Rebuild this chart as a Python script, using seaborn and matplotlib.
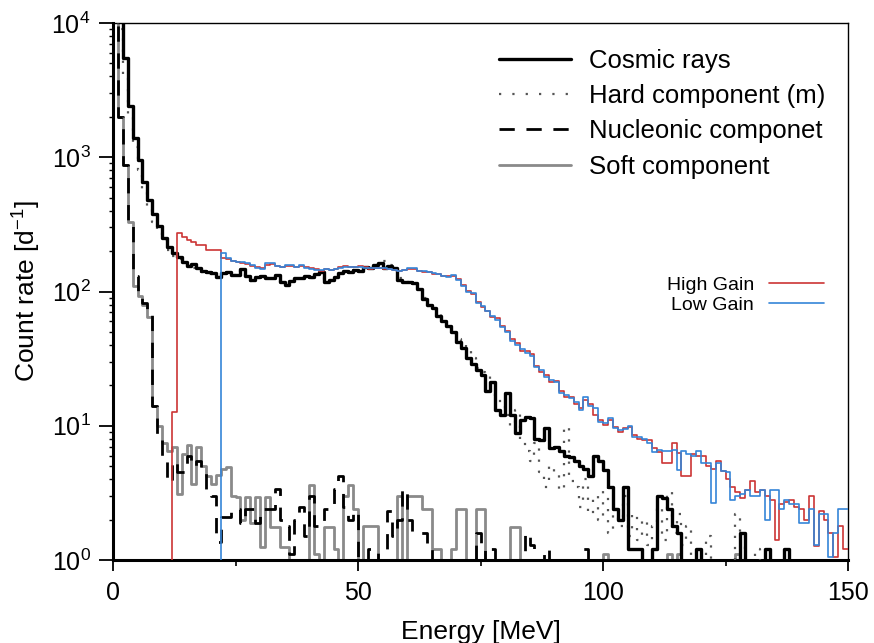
import numpy as np
import matplotlib
matplotlib.use("Agg")
import matplotlib.pyplot as plt
import seaborn as sns
from matplotlib.lines import Line2D
from matplotlib.ticker import LogLocator, MultipleLocator, NullFormatter

# counts per 1 MeV bin, bin i covers [i, i+1) MeV; 0 = empty bin
cosmic = [30000, 12000, 5500, 2400, 1400, 950, 650, 480, 380, 310,
          250, 215, 192, 180, 165, 155, 160, 150, 142, 140,
          138, 128, 138, 140, 132, 133, 148, 130, 122, 128,
          130, 127, 125, 132, 118, 112, 120, 126, 126, 130,
          128, 135, 140, 118, 122, 128, 138, 141, 140, 145,
          142, 152, 150, 158, 162, 150, 155, 150, 122, 118,
          118, 115, 105, 88, 80, 75, 66, 60, 55, 50,
          42, 38, 32, 29, 26, 24, 18, 21, 13, 12,
          17.5, 12, 8.8, 11, 11.7, 11.5, 8, 7.8, 9.6, 6.8,
          7, 6.5, 6, 5.9, 5.5, 5, 4.8, 4.2, 6, 5.5,
          4.7, 3.5, 2.4, 2.0, 3.5, 1.2, 1.2, 1.2, 0, 0,
          1.2, 3, 2.9, 2.4, 1.8, 1.6, 0, 0, 0, 1.2,
          0, 0, 0, 0, 0, 0, 0, 0, 1.6, 0,
          0, 0, 0, 1.2, 0, 0, 0, 1.2, 0, 0,
          0, 0, 0, 0, 0, 0, 0, 0, 0, 0]

hard = [20000, 9000, 4200, 2000, 1200, 800, 560, 420, 330, 280,
        240, 205, 185, 175, 160, 150, 150, 145, 140, 135,
        134, 128, 135, 138, 132, 130, 145, 128, 120, 126,
        128, 125, 124, 130, 117, 112, 118, 125, 125, 128,
        127, 134, 138, 117, 120, 126, 136, 140, 139, 144,
        142, 151, 149, 157, 162, 170, 158, 150, 125, 120,
        118, 114, 102, 90, 78, 76, 68, 62, 56, 52,
        44, 40, 36, 32, 27, 25, 24, 21, 16, 14,
        12, 10, 13, 8, 6.5, 5.5, 7.4, 4.5, 3.5, 5,
        4.4, 3.3, 9.8, 3.9, 3.5, 2.5, 4, 2.2, 3, 2,
        3.5, 1.6, 2.4, 1.8, 3, 1.5, 2.2, 1.4, 2, 1.3,
        1.8, 2.5, 1.4, 3.2, 1.6, 2.2, 1.3, 1.8, 1, 0,
        0, 1.5, 0, 0, 0, 0, 0, 2.2, 1.5, 0,
        0, 1.2, 0, 0, 0, 0, 0, 0, 0, 0,
        0, 0, 0, 0, 0, 0, 0, 0, 0, 0]

nucleonic = [20000, 2000, 880, 320, 130, 95, 82, 68, 14, 8.3,
             6, 3.8, 5.5, 4.5, 4.5, 6, 5, 5.5, 4.8, 3.3,
             3.0, 1.35, 2.1, 2.1, 2.4, 2.4, 1.9, 2.4, 2.4, 1.9,
             2.4, 2.4, 2.4, 3.4, 2.0, 1.8, 1.1, 2.0, 2.5, 1.5,
             3.0, 1.8, 1.8, 2.4, 2.4, 3.4, 4.2, 2.5, 2.0, 2.3,
             1.0, 1.0, 1.2, 1.2, 1.0, 1.0, 2.3, 1.5, 2.0, 3.4,
             2.0, 1.6, 1.6, 1.6, 1.2, 1, 1, 1, 1, 1,
             1, 1, 1, 1, 1.6, 1.3, 1, 1.2, 1, 1,
             1, 1, 1, 1, 1.6, 1.3, 1, 1, 1.2, 0,
             0, 0, 0, 0, 0, 0, 1.2, 0, 0, 0,
             0, 0, 0, 0, 0, 0, 0, 0, 0, 0,
             0, 0, 0, 0, 0, 0, 0, 0, 0, 0,
             0, 0, 0, 0, 0, 0, 0, 0, 0, 0,
             0, 0, 0, 0, 0, 0, 0, 0, 0, 0,
             0, 0, 0, 0, 0, 0, 0, 0, 0, 0]

soft = [20000, 2000, 870, 330, 110, 92, 80, 65, 14, 10,
        7.5, 6.5, 7.0, 3.1, 6.2, 7.2, 3.7, 7.0, 5.0, 4.2,
        3.7, 4.3, 4.8, 4.9, 3.0, 2.95, 2.0, 2.95, 1.9, 2.95,
        1.26, 2.95, 1.77, 1.77, 1.26, 1.26, 1, 1, 1, 1,
        3.6, 1.1, 1.0, 1.77, 1.77, 1.2, 1.0, 3.0, 3.6, 2.4,
        1.0, 1.8, 1.8, 1.8, 1, 1, 1, 1, 3.0, 1.0,
        3.0, 3.0, 3.0, 2.4, 2.4, 1.2, 1.2, 1, 1, 1.2,
        2.4, 2.4, 1, 1, 2.4, 2.4, 1, 1, 1, 1,
        1, 1.77, 1.77, 1, 1, 0, 0, 0, 0, 0,
        0, 0, 0, 0, 0, 0, 0, 0, 0, 0,
        1.1, 0, 0, 0, 0, 0, 0, 0, 0, 0,
        0, 0, 0, 1.1, 0, 1.1, 0, 0, 0, 0,
        0, 0, 0, 0, 0, 0, 0, 1.1, 0, 0,
        0, 0, 0, 0, 0, 0, 0, 0, 0, 0,
        0, 0, 0, 0, 0, 0, 0, 0, 0, 0]

high_gain = [0, 0, 0, 0, 0, 0, 0, 0, 0, 0,
             0, 0, 12.7, 272, 253, 242, 235, 222, 222, 204,
             204, 204, 178, 175, 168, 165, 163, 160, 156, 152,
             150, 158, 160, 156, 152, 155, 156, 152, 156, 152,
             150, 146, 143, 147, 145, 148, 152, 155, 152, 151,
             154, 151, 148, 150, 149, 148, 147, 144, 142, 145,
             148, 147, 142, 140, 140, 136, 135, 130, 131, 130,
             124, 112, 101, 96, 84, 77, 72, 65, 63, 55,
             51, 44, 41, 36, 36, 34, 28, 25, 24, 21,
             21.5, 18, 16.5, 16.5, 14.5, 13.5, 15.5, 14.5, 12, 11,
             10.2, 11, 9.8, 9.0, 9.6, 9.8, 8.5, 8.0, 7.8, 7.8,
             6.8, 6.4, 5.3, 5.3, 7.4, 6.3, 4.2, 4.2, 6.2, 6.0,
             6.0, 5.0, 4.8, 5.5, 4.6, 4.0, 3.5, 3.2, 2.9, 3.3,
             3.9, 3.2, 3.3, 3.0, 2.8, 1.41, 2.6, 2.7, 2.8, 2.5,
             2.4, 2.0, 3.0, 1.27, 2.3, 2.0, 1.6, 1.05, 1.8, 1.2]

low_gain = [0, 0, 0, 0, 0, 0, 0, 0, 0, 0,
            0, 0, 0, 0, 0, 0, 0, 0, 0, 0,
            0, 0, 192, 177, 170, 167, 165, 162, 158, 150,
            148, 162, 162, 155, 153, 157, 157, 153, 158, 150,
            148, 144, 144, 146, 144, 147, 150, 153, 153, 152,
            153, 150, 149, 149, 150, 149, 146, 145, 141, 144,
            149, 149, 141, 141, 139, 137, 134, 131, 129, 132,
            122, 110, 100, 97, 82, 78, 71, 66, 61, 54,
            50, 43, 40, 37, 35, 33, 27.5, 26, 23, 22,
            21, 17.5, 17, 16, 15, 13, 16.5, 14, 13.5, 10.7,
            10.4, 11.5, 9.6, 9.3, 9.4, 10, 8.3, 8.2, 8, 7.5,
            6.4, 6.6, 6.5, 6.5, 6.6, 4.7, 6.5, 6.2, 6, 6.5,
            5.3, 5.3, 2.65, 5.3, 4.6, 4.5, 2.8, 3, 3.1, 3.3,
            3.0, 3.0, 3.3, 2.0, 3.3, 3.3, 2.4, 2.8, 2.6, 2.6,
            1.9, 1.9, 2.4, 1.3, 2.2, 2.2, 1.05, 1.6, 2.4, 2.4]

edges = np.arange(151)

sns.set_style("ticks")
plt.rcParams["font.family"] = ["Liberation Sans", "DejaVu Sans"]
plt.rcParams["mathtext.fontset"] = "custom"
plt.rcParams["mathtext.rm"] = "Liberation Sans"
plt.rcParams["mathtext.it"] = "Liberation Sans:italic"
for key in ["text.color", "axes.labelcolor", "xtick.color", "ytick.color",
            "axes.edgecolor"]:
    plt.rcParams[key] = "black"

fig = plt.figure(figsize=(8.74, 6.43), dpi=100)
ax = fig.add_axes([0.1293, 0.1291, 0.8410, 0.8351])


def step(vals, **kw):
    v = np.asarray(vals, dtype=float)
    v = np.where(v > 0, v, 0.4)  # empty bins sit below the axis floor
    y = np.append(v, v[-1])
    sns.lineplot(x=edges, y=y, drawstyle="steps-post", estimator=None,
                 sort=False, ax=ax, **kw)


c_soft = "#8a8a8a"
c_hard = "#555555"
c_red = "#cc3535"
c_blue = "#3585d8"

step(soft, color=c_soft, linewidth=2.0, zorder=2)
step(nucleonic, color="black", linewidth=2.0, linestyle=(0, (5.5, 4.2)), zorder=3)
step(hard, color=c_hard, linewidth=1.6, linestyle=(0, (1, 4)), zorder=4)
step(cosmic, color="black", linewidth=2.4, zorder=5)
step(high_gain, color=c_red, linewidth=1.2, zorder=6)
step(low_gain, color=c_blue, linewidth=1.2, zorder=7)

ax.set_xlim(0, 150)
ax.set_yscale("log")
ax.set_ylim(1, 1e4)
ax.xaxis.set_major_locator(MultipleLocator(50))
ax.xaxis.set_minor_locator(MultipleLocator(25))
ax.yaxis.set_major_locator(LogLocator(base=10, numticks=10))
ax.yaxis.set_minor_locator(LogLocator(base=10, subs=np.arange(2, 10), numticks=20))
ax.yaxis.set_minor_formatter(NullFormatter())

ax.tick_params(axis="both", which="major", direction="out", labelsize=18,
               width=1.3, color="black", labelcolor="black")
ax.tick_params(axis="x", which="major", length=8, pad=7)
ax.tick_params(axis="x", which="minor", length=4, width=1.2)
ax.tick_params(axis="y", which="major", length=10, pad=6)
ax.tick_params(axis="y", which="minor", length=3, width=1.0)

for side in ["left", "bottom"]:
    ax.spines[side].set_linewidth(2.2)
for side in ["top", "right"]:
    ax.spines[side].set_linewidth(1.0)
    ax.spines[side].set_visible(True)

ax.set_xlabel("Energy [MeV]", fontsize=19, labelpad=11)
ax.set_ylabel("Count rate [d$^{-1}$]", fontsize=19, labelpad=6)

handles = [
    Line2D([], [], color="black", linewidth=2.4),
    Line2D([], [], color=c_hard, linewidth=1.6, linestyle=(0, (1, 5))),
    Line2D([], [], color="black", linewidth=2.0, linestyle=(0, (5.5, 4.2))),
    Line2D([], [], color=c_soft, linewidth=2.0),
]
labels = ["Cosmic rays", "Hard component (m)", "Nucleonic componet", "Soft component"]
leg1 = ax.legend(handles, labels, loc="upper left", bbox_to_anchor=(0.525, 0.952),
                 frameon=False, fontsize=18.5, handlelength=2.8, handletextpad=0.7,
                 labelspacing=0.44, borderaxespad=0, borderpad=0)
ax.add_artist(leg1)

gain_handles = [Line2D([], [], color=c_red, linewidth=1.2),
                Line2D([], [], color=c_blue, linewidth=1.2)]
ax.legend(gain_handles, ["High Gain", "Low Gain"], loc="upper right",
          bbox_to_anchor=(0.967, 0.528), frameon=False, fontsize=14,
          markerfirst=False, handlelength=2.8, handletextpad=0.8,
          labelspacing=0.1, borderaxespad=0, borderpad=0)

fig.savefig("out.png", dpi=100)
